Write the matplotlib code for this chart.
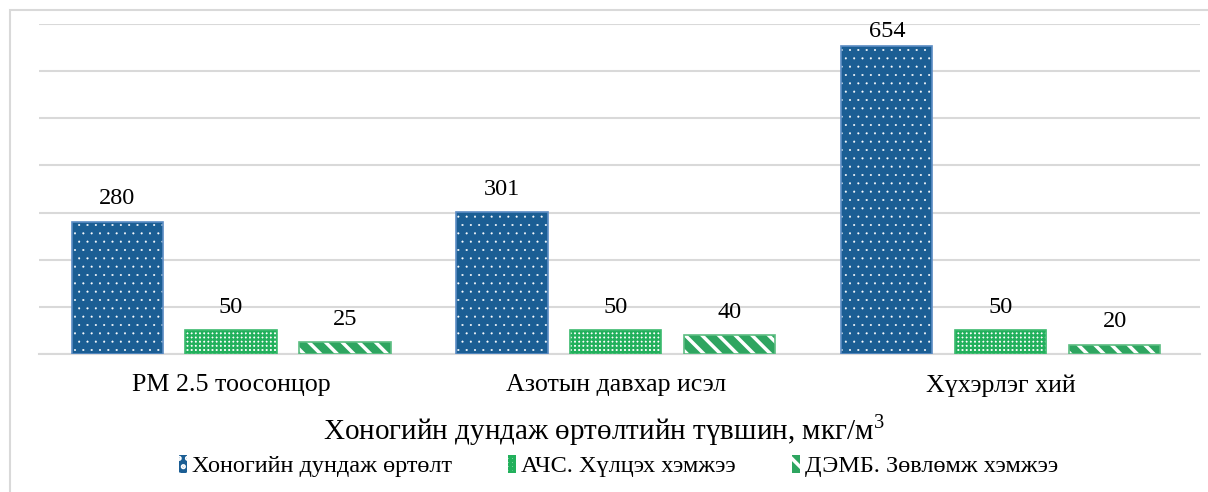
import numpy as np
import matplotlib.pyplot as plt
from matplotlib.patches import Rectangle, Patch

plt.rcParams['font.family'] = ['Liberation Serif', 'DejaVu Serif']
plt.rcParams['mathtext.fontset'] = 'custom'
plt.rcParams['mathtext.rm'] = 'Liberation Serif'

categories = ['PM 2.5 тоосонцор', 'Азотын давхар исэл', 'Хүхэрлэг хий']
series = ['Хоногийн дундаж өртөлт', 'АЧС. Хүлцэх хэмжээ', 'ДЭМБ. Зөвлөмж хэмжээ']
daily = [280, 301, 654]
mns = [50, 50, 50]
who = [25, 40, 20]

# fill, hatch colour, border, hatch, hatch line width
styles = [
    ('#1b5e94', 'white', '#5b8cc4', '.', 0.5),
    ('white', '#22b05c', '#3cba6e', '++', 3.3),
    ('#2ea560', 'white', '#5cbd82', '\\', 5.0),
]

# drawn at 50 dpi so the hatch patterns come out fine; sizes below are in points
fig = plt.figure(figsize=(24.16, 9.84), dpi=50)
fig.patches.append(Rectangle((10 / 1208, -0.05), 1.2, 0.05 + 1 - 10 / 492,
                             transform=fig.transFigure, fill=False,
                             edgecolor='#d9d9d9', linewidth=3))
ax = fig.add_axes([39 / 1208, 1 - 354 / 492, (1200 - 39) / 1208, 330 / 492])

x = np.arange(len(categories))
width = 0.237
step = 0.296
handles = []
for i, vals in enumerate([daily, mns, who]):
    fc, hc, ec, htch, hlw = styles[i]
    pos = x + (i - 1) * step
    plt.rcParams['hatch.linewidth'] = hlw
    ax.bar(pos, vals, width, color=fc, edgecolor=hc, hatch=htch,
           linewidth=0, zorder=3)
    ax.bar(pos, vals, width, fill=False, edgecolor=ec, linewidth=2.4, zorder=4)
    for p, v in zip(pos, vals):
        # keep the tallest label inside the plot area
        off = 18 if v < 600 else 6
        ax.annotate(str(v), (p, v), xytext=(0, off), textcoords='offset points',
                    ha='center', va='bottom', fontsize=35)
    handles.append(Patch(facecolor=fc, edgecolor=hc, hatch=htch, linewidth=0))

ax.set_xlim(-0.499, 2.518)
ax.set_ylim(0, 700)
ax.set_yticks(np.arange(0, 701, 100))
ax.yaxis.grid(True, color='#d9d9d9', linewidth=3, zorder=0)
ax.set_axisbelow(True)
ax.tick_params(left=False, labelleft=False, bottom=False)
ax.set_xticks(x)
ax.set_xticklabels(categories, fontsize=37.5)
ax.tick_params(axis='x', pad=26)
for s in ['top', 'right', 'left']:
    ax.spines[s].set_visible(False)
ax.spines['bottom'].set_color('#d9d9d9')
ax.spines['bottom'].set_linewidth(3)

fig.text(0.5, 1 - 430 / 492, 'Хоногийн дундаж өртөлтийн түвшин, мкг/м$^{3}$',
         ha='center', va='center', fontsize=42)
fig.legend(handles, series, loc='center', bbox_to_anchor=(0.512, 1 - 466 / 492),
           ncol=3, frameon=False, fontsize=35, handlelength=0.35, handleheight=0.8,
           handletextpad=0.2, columnspacing=2.3)

fig.savefig('out.png', dpi=50)
